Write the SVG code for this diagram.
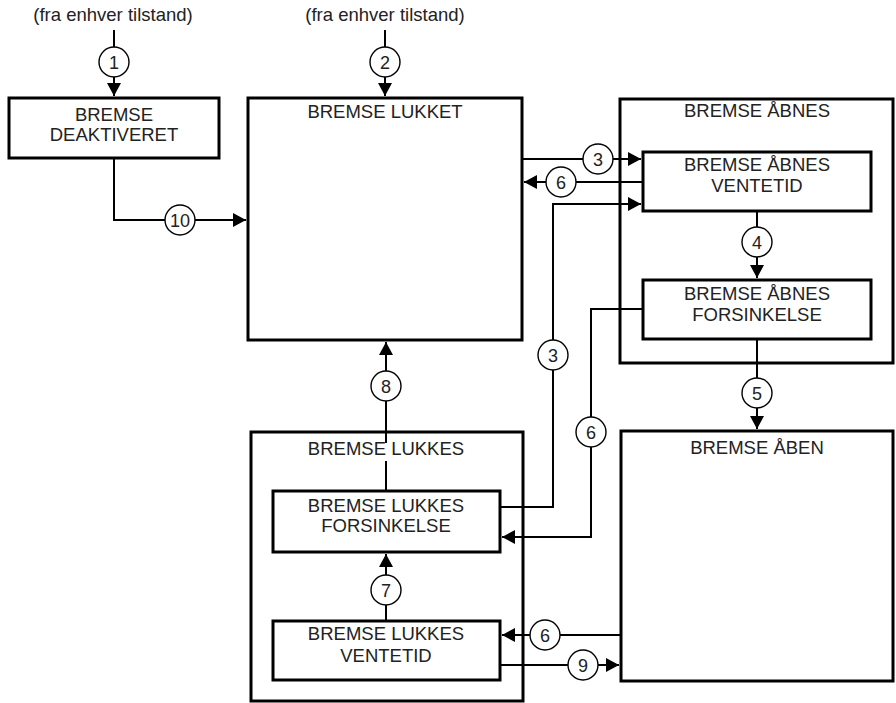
<svg xmlns="http://www.w3.org/2000/svg" width="896" height="703" viewBox="0 0 896 703">
<style>
.box{fill:none;stroke:#000;stroke-width:3}
.ln{fill:none;stroke:#000;stroke-width:2}
.cir{fill:#fff;stroke:#000;stroke-width:1.4}
text{font-family:"Liberation Sans",Arial,sans-serif;font-size:18.5px;fill:#222;text-anchor:middle}
.num{font-size:18px}
</style>
<defs>
<marker id="ah" markerUnits="userSpaceOnUse" markerWidth="14" markerHeight="14" refX="13" refY="7" orient="auto">
<path d="M0,0 L13,7 L0,14 Z" fill="#000"/>
</marker>
</defs>
<rect width="896" height="703" fill="#fff"/>
<text x="113" y="21">(fra enhver tilstand)</text>
<text x="385" y="21">(fra enhver tilstand)</text>
<g id="connectors">
<path class="ln" d="M114,30 V96" marker-end="url(#ah)"/>
<path class="ln" d="M385,30 V96" marker-end="url(#ah)"/>
<path class="ln" d="M114,158 V220 H246" marker-end="url(#ah)"/>
<path class="ln" d="M522,159 H641" marker-end="url(#ah)"/>
<path class="ln" d="M643,182 H524" marker-end="url(#ah)"/>
<path class="ln" d="M500,507 H553 V204 H641" marker-end="url(#ah)"/>
<path class="ln" d="M757,211 V278" marker-end="url(#ah)"/>
<path class="ln" d="M643,309 H591 V537 H502" marker-end="url(#ah)"/>
<path class="ln" d="M757,339 V429" marker-end="url(#ah)"/>
<path class="ln" d="M386,491 V342" marker-end="url(#ah)"/>
<path class="ln" d="M386,621 V554" marker-end="url(#ah)"/>
<path class="ln" d="M621,635 H502" marker-end="url(#ah)"/>
<path class="ln" d="M500,665 H619" marker-end="url(#ah)"/>
<g id="c1"><circle class="cir" cx="114" cy="62" r="15"/><text class="num" x="114" y="68.5">1</text></g>
<g id="c2"><circle class="cir" cx="385" cy="62" r="15"/><text class="num" x="385" y="68.5">2</text></g>
<g id="c10"><circle class="cir" cx="180" cy="220" r="15"/><text class="num" x="180" y="226.5">10</text></g>
<g id="c3a"><circle class="cir" cx="598" cy="159" r="15"/><text class="num" x="598" y="165.5">3</text></g>
<g id="c6a"><circle class="cir" cx="561" cy="182" r="15"/><text class="num" x="561" y="188.5">6</text></g>
<g id="c3b"><circle class="cir" cx="553" cy="355" r="15"/><text class="num" x="553" y="361.5">3</text></g>
<g id="c4"><circle class="cir" cx="757" cy="242" r="15"/><text class="num" x="757" y="248.5">4</text></g>
<g id="c6b"><circle class="cir" cx="591" cy="432" r="15"/><text class="num" x="591" y="438.5">6</text></g>
<g id="c5"><circle class="cir" cx="757" cy="393" r="15"/><text class="num" x="757" y="399.5">5</text></g>
<g id="c8"><circle class="cir" cx="386" cy="386" r="15"/><text class="num" x="386" y="392.5">8</text></g>
<g id="c7"><circle class="cir" cx="386" cy="590" r="15"/><text class="num" x="386" y="596.5">7</text></g>
<g id="c6c"><circle class="cir" cx="545" cy="635" r="15"/><text class="num" x="545" y="641.5">6</text></g>
<g id="c9"><circle class="cir" cx="583" cy="665" r="15"/><text class="num" x="583" y="671.5">9</text></g>
</g>
<g id="deaktiveret">
<rect class="box" x="9" y="98" width="210" height="60"/>
<text x="114" y="121">BREMSE</text>
<text x="114" y="141">DEAKTIVERET</text>
</g>
<g id="lukket">
<rect class="box" x="248" y="98" width="274" height="242"/>
<text x="385" y="118">BREMSE LUKKET</text>
</g>
<g id="aabnes">
<rect class="box" x="620" y="99" width="273" height="264"/>
<text x="757" y="117">BREMSE ÅBNES</text>
</g>
<g id="aabnes-ventetid">
<rect class="box" x="643" y="152" width="228" height="59"/>
<text x="757" y="171">BREMSE ÅBNES</text>
<text x="757" y="192">VENTETID</text>
</g>
<g id="aabnes-forsinkelse">
<rect class="box" x="643" y="280" width="228" height="59"/>
<text x="757" y="300">BREMSE ÅBNES</text>
<text x="757" y="321">FORSINKELSE</text>
</g>
<g id="aaben">
<rect class="box" x="621" y="431" width="272" height="250"/>
<text x="757" y="454">BREMSE ÅBEN</text>
</g>
<g id="lukkes">
<rect class="box" x="251" y="432" width="272" height="269"/>
<rect x="308" y="443" width="156" height="18" fill="#fff"/>
<text x="386" y="455">BREMSE LUKKES</text>
</g>
<g id="lukkes-forsinkelse">
<rect class="box" x="273" y="491" width="227" height="61"/>
<text x="386" y="512">BREMSE LUKKES</text>
<text x="386" y="532">FORSINKELSE</text>
</g>
<g id="lukkes-ventetid">
<rect class="box" x="273" y="621" width="227" height="59"/>
<text x="386" y="640">BREMSE LUKKES</text>
<text x="386" y="662">VENTETID</text>
</g>
</svg>
